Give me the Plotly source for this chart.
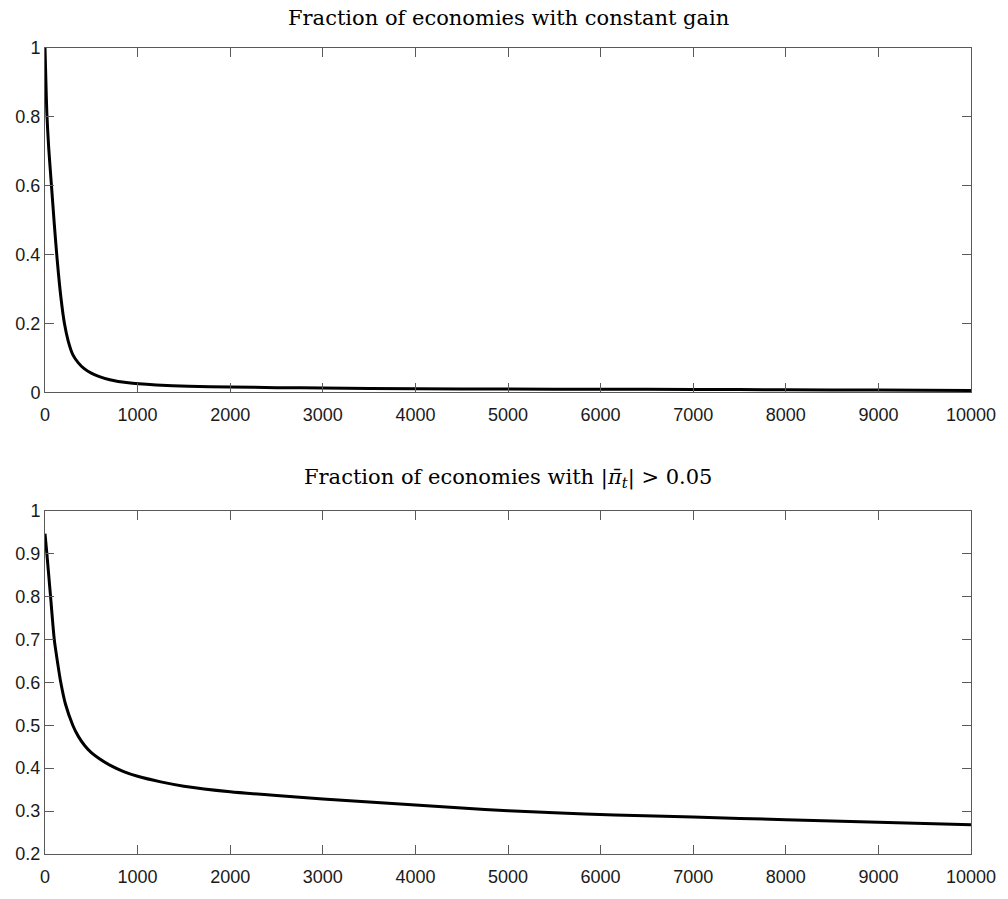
import plotly.graph_objects as go
from plotly.subplots import make_subplots

# Simulation periods and fractions of economies
t_gain = [0, 10, 20, 40, 70, 100, 130, 170, 210, 250, 300, 360, 420, 500, 580,
          700, 900, 1200, 1550, 2000, 2500, 3000, 4000, 5000, 6000, 7000, 8000,
          9000, 10000]
frac_gain = [1.0, 0.9, 0.81, 0.71, 0.6, 0.49, 0.39, 0.28, 0.2, 0.15, 0.11, 0.086,
             0.07, 0.056, 0.047, 0.037, 0.028, 0.022, 0.018, 0.016, 0.014, 0.013,
             0.011, 0.010, 0.0095, 0.0088, 0.008, 0.007, 0.006]

t_infl = [0, 20, 40, 60, 100, 140, 170, 220, 300, 360, 430, 500, 580, 700, 850,
          1000, 1250, 1500, 2000, 2500, 3000, 3500, 4000, 4500, 5000, 5500, 6150,
          7000, 8000, 9000, 10000]
frac_infl = [0.946, 0.9, 0.85, 0.8, 0.7, 0.64, 0.6, 0.55, 0.5, 0.474, 0.452, 0.436,
             0.423, 0.407, 0.392, 0.381, 0.368, 0.358, 0.345, 0.336, 0.328, 0.321,
             0.314, 0.307, 0.301, 0.296, 0.291, 0.286, 0.28, 0.274, 0.268]

x_ticks = [0, 1000, 2000, 3000, 4000, 5000, 6000, 7000, 8000, 9000, 10000]
y_ticks_top = [0, 0.2, 0.4, 0.6, 0.8, 1]
y_ticks_bot = [0.2, 0.3, 0.4, 0.5, 0.6, 0.7, 0.8, 0.9, 1]

titles = ["Fraction of economies with constant gain",
          "Fraction of economies with |<i>π̄<sub>t</sub></i>| > 0.05"]

fig = make_subplots(rows=2, cols=1)

fig.add_trace(go.Scatter(x=t_gain, y=frac_gain, mode="lines",
                         line=dict(color="black", width=3, shape="spline", smoothing=0.6)),
              row=1, col=1)
fig.add_trace(go.Scatter(x=t_infl, y=frac_infl, mode="lines",
                         line=dict(color="black", width=3, shape="spline", smoothing=0.6)),
              row=2, col=1)

tick_font = dict(family="Liberation Sans, Arial, sans-serif", size=18, color="#1a1a1a")
axis_style = dict(showgrid=False, zeroline=False, showline=True, linecolor="#5a5a5a",
                  linewidth=1, mirror="ticks", ticks="inside", ticklen=9,
                  tickcolor="#5a5a5a", tickwidth=1, tickfont=tick_font)

fig.update_xaxes(range=[0, 10000], tickvals=x_ticks,
                 ticktext=[str(v) for v in x_ticks], ticklabelstandoff=6, **axis_style)
fig.update_yaxes(range=[0, 1], tickvals=y_ticks_top,
                 ticktext=["0", "0.2", "0.4", "0.6", "0.8", "1"], row=1, col=1, **axis_style)
fig.update_yaxes(range=[0.2, 1], tickvals=y_ticks_bot,
                 ticktext=["0.2", "0.3", "0.4", "0.5", "0.6", "0.7", "0.8", "0.9", "1"],
                 row=2, col=1, **axis_style)

fig.update_layout(
    width=1008, height=899,
    margin=dict(l=45, r=29, t=48, b=32),
    paper_bgcolor="white", plot_bgcolor="white",
    showlegend=False,
    yaxis=dict(domain=[0.5726, 1.0]),
    yaxis2=dict(domain=[0.0, 0.4261]),
)

title_font = dict(family="DejaVu Serif, Liberation Serif, serif", size=21, color="black")
fig.add_annotation(text=titles[0], xref="paper", yref="paper", x=0.5, y=1.0,
                   yanchor="middle", yshift=30, showarrow=False, font=title_font)
fig.add_annotation(text=titles[1], xref="paper", yref="paper", x=0.5, y=0.4261,
                   yanchor="middle", yshift=33, showarrow=False, font=title_font)

# keep the page exactly the size of the figure
page_fix = "document.body.style.margin='0';document.body.style.overflow='hidden';"
fig.write_html("out.html", post_script=page_fix)
